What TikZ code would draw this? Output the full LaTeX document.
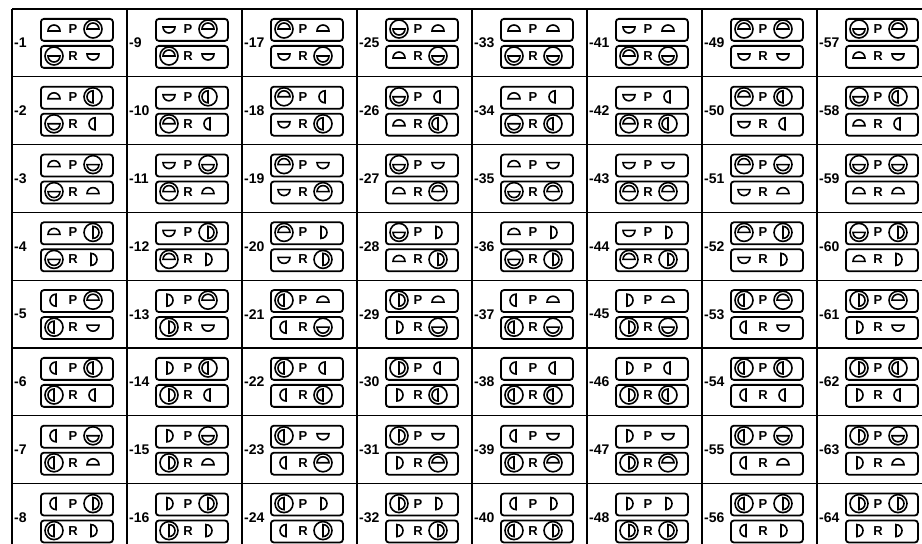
\documentclass[tikz,border=0pt]{standalone}
\usepackage{fontspec}
\setmainfont{Liberation Sans}
\tikzset{
  cellbox/.style={draw, line width=1.8pt, rounded corners=3pt, minimum width=72pt, minimum height=22pt, inner sep=0pt, anchor=north west},
  glyphline/.style={line width=1.6pt},
  lbl/.style={font=\fontsize{14}{14}\selectfont\bfseries, anchor=west, inner sep=0pt},
  letter/.style={font=\fontsize{13}{13}\selectfont\bfseries, inner sep=0pt},
  gridline/.style={line width=1.3pt},
}
% half disc: x y shape(0=up,1=down,2=left,3=right) radius offset
\newcommand\halfd[5]{%
  \ifcase#3\relax
    \draw[glyphline] ({#1-#4},{#2-#5}) arc[start angle=180,end angle=0,radius=#4pt] -- cycle;
  \or
    \draw[glyphline] ({#1-#4},{#2+#5}) arc[start angle=180,end angle=360,radius=#4pt] -- cycle;
  \or
    \draw[glyphline] ({#1+#5},{#2+#4}) arc[start angle=90,end angle=270,radius=#4pt] -- cycle;
  \or
    \draw[glyphline] ({#1-#5},{#2+#4}) arc[start angle=90,end angle=-90,radius=#4pt] -- cycle;
  \fi}
\newcommand\drawglyph[4]{%
  \ifnum#4=1\relax
    \draw[glyphline] (#1,#2) circle[radius=9pt];
    \halfd{#1}{#2}{#3}{6}{0}%
  \else
    \halfd{#1}{#2}{#3}{6}{2}%
  \fi}
\begin{document}
\begin{tikzpicture}[x=1pt,y=1pt]
\useasboundingbox (0,0) rectangle (922,544);
% grid
\foreach \k in {0,...,7}{
  \draw[gridline] ({12+115*\k},535) -- ({12+115*\k},0);
  \draw[gridline] (12,{535-67.8*\k}) -- (922,{535-67.8*\k});
}
\foreach \c in {0,...,7}{
  \foreach \r in {0,...,7}{
    \pgfmathtruncatemacro\n{8*\c+\r+1}
    \pgfmathsetmacro\xo{12+115*\c}
    \pgfmathsetmacro\yo{535-67.8*\r}
    \pgfmathtruncatemacro\sTL{mod(\c,2)+2*(\r>3)}
    \pgfmathtruncatemacro\rr{mod(\r,4)}
    \pgfmathtruncatemacro\sTR{\rr==1 ? 2 : (\rr==2 ? 1 : \rr)}
    \pgfmathtruncatemacro\sBL{\sTL<2 ? 1-\sTL : \sTL}
    \pgfmathtruncatemacro\sBR{\sTR<2 ? 1-\sTR : \sTR}
    \pgfmathtruncatemacro\cp{int(\c/2)}
    \pgfmathtruncatemacro\cTL{(\cp==1 || \cp==3) ? 1 : 0}
    \pgfmathtruncatemacro\cTR{(\cp==0 || \cp==3) ? 1 : 0}
    \pgfmathtruncatemacro\cBL{1-\cTL}
    \pgfmathtruncatemacro\cBR{1-\cTR}
    \pgfmathsetmacro\gl{\xo+42}
    \pgfmathsetmacro\gm{\xo+61}
    \pgfmathsetmacro\gr{\xo+81}
    \pgfmathsetmacro\yt{\yo-20}
    \pgfmathsetmacro\yb{\yo-47}
    \node[cellbox] (t\n) at ({\xo+28},{\yo-9}) {};
    \node[cellbox] (b\n) at ({\xo+28},{\yo-36}) {};
    \node[lbl] (l\n) at ({\xo+2},{\yo-34}) {-\n};
    \node[letter] (p\n) at (\gm,\yt) {P};
    \node[letter] (q\n) at (\gm,\yb) {R};
    \drawglyph{\gl}{\yt}{\sTL}{\cTL}
    \drawglyph{\gr}{\yt}{\sTR}{\cTR}
    \drawglyph{\gl}{\yb}{\sBL}{\cBL}
    \drawglyph{\gr}{\yb}{\sBR}{\cBR}
  }
}
\end{tikzpicture}
\end{document}
